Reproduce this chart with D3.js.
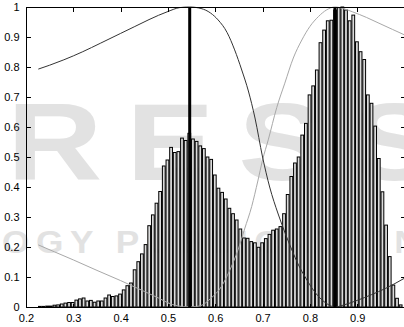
<!DOCTYPE html>
<html>
<head>
<meta charset="utf-8">
<script src="https://cdn.jsdelivr.net/npm/d3@7"></script>
<style>
  body { margin: 0; background: #fff; }
  svg { display: block; font-family: "Liberation Sans", Arial, sans-serif; }
</style>
</head>
<body>
<div class="result"></div>
<script>
// Histogram: 100 equal bins between the data min and max, heights scaled so the tallest bin is 1
const binRange = [0.2255, 0.9957];
const counts = [
  0.002, 0.002, 0.003, 0.003, 0.006, 0.007, 0.010, 0.013, 0.015, 0.015,
  0.023, 0.027, 0.030, 0.020, 0.022, 0.016, 0.020, 0.020, 0.030, 0.040,
  0.035, 0.037, 0.043, 0.057, 0.071, 0.080, 0.124, 0.151, 0.177, 0.208,
  0.271, 0.307, 0.346, 0.385, 0.470, 0.490, 0.532, 0.515, 0.518, 0.563,
  0.555, 0.579, 0.560, 0.552, 0.537, 0.528, 0.500, 0.492, 0.440, 0.396,
  0.382, 0.360, 0.329, 0.311, 0.290, 0.260, 0.230, 0.229, 0.218, 0.214,
  0.199, 0.214, 0.228, 0.242, 0.256, 0.260, 0.268, 0.311, 0.375, 0.435,
  0.480, 0.500, 0.573, 0.612, 0.707, 0.737, 0.790, 0.881, 0.923, 0.954,
  0.956, 0.990, 0.998, 1.000, 0.990, 0.954, 0.973, 0.884, 0.851, 0.825,
  0.707, 0.679, 0.603, 0.495, 0.384, 0.273, 0.168, 0.073, 0.029, 0.007
];

// Dark membership curve
const darkX = [0.226, 0.25, 0.28, 0.32, 0.357, 0.40, 0.43, 0.46, 0.50, 0.525, 0.546,
  0.57, 0.59, 0.606, 0.625, 0.641, 0.656, 0.670, 0.684, 0.70, 0.715, 0.733, 0.748,
  0.762, 0.776, 0.79, 0.808, 0.826, 0.84, 0.853, 0.87, 0.90, 0.93, 0.96, 1.0];
const darkY = [0.793, 0.806, 0.824, 0.851, 0.879, 0.912, 0.935, 0.958, 0.985, 0.998, 1.0,
  0.995, 0.98, 0.957, 0.915, 0.857, 0.79, 0.72, 0.63, 0.50, 0.40, 0.31, 0.245,
  0.19, 0.14, 0.10, 0.055, 0.023, 0.007, 0.0, 0.006, 0.022, 0.041, 0.062, 0.096];

// Light membership curve
const lightX = [0.226, 0.26, 0.30, 0.35, 0.40, 0.45, 0.48, 0.50, 0.52, 0.546, 0.57,
  0.59, 0.613, 0.63, 0.648, 0.662, 0.677, 0.69, 0.70, 0.712, 0.73, 0.747, 0.765,
  0.783, 0.80, 0.818, 0.835, 0.853, 0.87, 0.89, 0.92, 0.946, 0.975, 1.0];
const lightY = [0.207, 0.184, 0.157, 0.122, 0.088, 0.052, 0.03, 0.014, 0.004, 0.0, 0.005,
  0.028, 0.068, 0.12, 0.19, 0.26, 0.335, 0.42, 0.49, 0.557, 0.665, 0.746, 0.83,
  0.89, 0.935, 0.968, 0.99, 1.0, 0.995, 0.984, 0.965, 0.946, 0.925, 0.907];

// Thick vertical markers (cluster centres)
const markers = [0.546, 0.853];

const xTicks = [0.2, 0.3, 0.4, 0.5, 0.6, 0.7, 0.8, 0.9];
const yTicks = [0, 0.1, 0.2, 0.3, 0.4, 0.5, 0.6, 0.7, 0.8, 0.9, 1];

// Width and height
const w = 404;
const h = 327;

const x = d3.scaleLinear().domain([0.2, 1]).range([26, 404.5]);
const y = d3.scaleLinear().domain([0, 1]).range([307, 7]);

const svg = d3.select('.result')
  .append('svg')
  .attr('width', w)
  .attr('height', h);

svg.append('rect').attr('width', w).attr('height', h).attr('fill', '#fff');

// Publisher watermark behind the plot (only part of it is inside the crop)
const wmColor = '#e2e2e2';
const wm1 = svg.append('g').attr('transform', 'translate(7,180) scale(1.2,1)')
  .attr('font-size', 110).attr('font-weight', 'bold').attr('fill', wmColor)
  .attr('letter-spacing', 20);
wm1.append('text').attr('x', -30).attr('text-anchor', 'end').text('SCITEP');
wm1.append('text').attr('x', 0).text('RESS');

const wm2 = svg.append('g').attr('transform', 'translate(2,253) scale(1.1,1)')
  .attr('font-size', 32).attr('font-weight', 'bold').attr('fill', wmColor)
  .attr('letter-spacing', 6);
wm2.append('text').attr('x', -12).attr('text-anchor', 'end').text('SCIENCE AND TECHNOL');
wm2.append('text').attr('x', 0).text('OGY PUBLICATIONS');

// Histogram bars
const bw = (binRange[1] - binRange[0]) / counts.length;
const pitch = x(binRange[0] + bw) - x(binRange[0]);
svg.append('g')
  .selectAll('rect')
  .data(counts)
  .enter()
  .append('rect')
  .attr('x', (d, i) => x(binRange[0] + i * bw) + pitch * 0.12)
  .attr('y', d => y(d))
  .attr('width', pitch * 0.76)
  .attr('height', d => y(0) - y(d))
  .attr('fill', '#dcdcdc')
  .attr('stroke', '#000')
  .attr('stroke-width', 1);

// Curves
const line = d3.line()
  .x(d => x(d[0]))
  .y(d => y(d[1]))
  .curve(d3.curveMonotoneX);

svg.append('path')
  .datum(lightX.map((v, i) => [v, lightY[i]]))
  .attr('d', line)
  .attr('fill', 'none')
  .attr('stroke', '#a8a8a8')
  .attr('stroke-width', 1);

svg.append('path')
  .datum(darkX.map((v, i) => [v, darkY[i]]))
  .attr('d', line)
  .attr('fill', 'none')
  .attr('stroke', '#333')
  .attr('stroke-width', 1);

// Thick markers
svg.append('g')
  .selectAll('line')
  .data(markers)
  .enter()
  .append('line')
  .attr('x1', d => x(d)).attr('x2', d => x(d))
  .attr('y1', y(0)).attr('y2', y(1))
  .attr('stroke', '#000')
  .attr('stroke-width', 3);

// Box with inward ticks on all four sides (MATLAB style)
const tick = 4;
const axes = svg.append('g').attr('shape-rendering', 'crispEdges');
axes.append('rect')
  .attr('x', x(0.2) + 0.5).attr('y', y(1) + 0.5)
  .attr('width', x(1) - x(0.2)).attr('height', y(0) - y(1))
  .attr('fill', 'none').attr('stroke', '#000');

const xAxisB = d3.axisBottom(x).tickValues(xTicks).tickSize(-tick).tickPadding(7)
  .tickFormat(d3.format('.1f'));
const xAxisT = d3.axisTop(x).tickValues(xTicks).tickSize(-tick).tickFormat('');
const yAxisL = d3.axisLeft(y).tickValues(yTicks).tickSize(-tick).tickPadding(7)
  .tickFormat(d => d === 0 || d === 1 ? String(d) : d3.format('.1f')(d));
const yAxisR = d3.axisRight(y).tickValues(yTicks).tickSize(-tick).tickFormat('');

axes.append('g').attr('transform', 'translate(0,' + (y(0) + 0.5) + ')').call(xAxisB);
axes.append('g').attr('transform', 'translate(0,' + (y(1) + 0.5) + ')').call(xAxisT);
axes.append('g').attr('transform', 'translate(' + (x(0.2) + 0.5) + ',0)').call(yAxisL);
axes.append('g').attr('transform', 'translate(' + (x(1) + 0.5) + ',0)').call(yAxisR);

axes.selectAll('.domain').remove();
axes.selectAll('.tick line').attr('stroke', '#000');
axes.selectAll('.tick text')
  .attr('fill', '#000')
  .attr('font-size', 11)
  .attr('font-family', '"Liberation Sans", Arial, sans-serif');
</script>
</body>
</html>
